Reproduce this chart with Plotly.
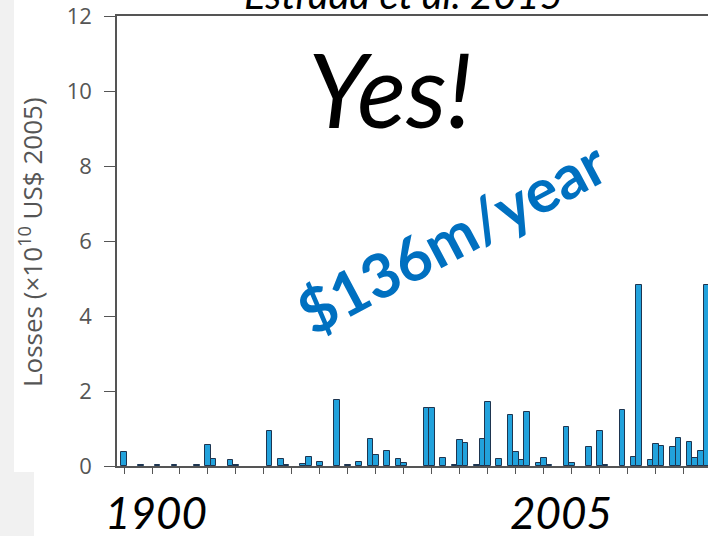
import plotly.graph_objects as go

years = [1900, 1903, 1906, 1909, 1913, 1915, 1916, 1919, 1920, 1926, 1928, 1929,
         1932, 1933, 1935, 1938, 1940, 1942, 1944, 1945, 1947, 1949, 1950, 1954,
         1955, 1957, 1959, 1960, 1961, 1963, 1964, 1965, 1967, 1969, 1970, 1971,
         1972, 1974, 1975, 1976, 1979, 1980, 1983, 1985, 1986, 1989, 1991, 1992,
         1994, 1995, 1996, 1998, 1999, 2001, 2002, 2003, 2004]
losses = [0.38, 0.02, 0.03, 0.04, 0.02, 0.56, 0.20, 0.16, 0.03, 0.93, 0.20, 0.03,
          0.05, 0.23, 0.10, 1.76, 0.03, 0.10, 0.73, 0.29, 0.41, 0.18, 0.09, 1.54,
          1.56, 0.22, 0.03, 0.70, 0.62, 0.03, 0.71, 1.71, 0.20, 1.36, 0.38, 0.16,
          1.45, 0.07, 0.22, 0.04, 1.05, 0.07, 0.52, 0.94, 0.04, 1.49, 0.25, 4.83,
          0.16, 0.60, 0.54, 0.52, 0.74, 0.64, 0.22, 0.41, 4.83]

y_ticks = [0, 2, 4, 6, 8, 10, 12]
x_ticks = list(range(1900, 2006, 5))

W, H = 708, 536
L, R, T, B = 117, 0, 16, 70
pw, ph = W - L - R, H - T - B


def px(x):
    return (x - L) / pw


def py(y):
    return (H - B - y) / ph


fig = go.Figure()
fig.add_trace(go.Bar(
    x=years, y=losses, width=1.0,
    marker=dict(color="#22a2dc", line=dict(color="#1e3550", width=1)),
    hoverinfo="x+y",
))

fig.update_layout(
    width=W, height=H,
    margin=dict(l=L, r=R, t=T, b=B),
    paper_bgcolor="white", plot_bgcolor="white",
    showlegend=False, bargap=0,
    font=dict(family="Open Sans, sans-serif"),
)
fig.update_xaxes(
    range=[1898.75, 2004.3], showgrid=False, zeroline=False,
    showline=True, linecolor="#555", linewidth=1.5, mirror=True,
    tickmode="array", tickvals=x_ticks, ticks="outside", ticklen=6,
    tickcolor="#555", showticklabels=False,
)
fig.update_yaxes(
    range=[0, 12], showgrid=False, zeroline=False,
    showline=True, linecolor="#555", linewidth=1.5,
    tickmode="array", tickvals=y_ticks, ticks="outside", ticklen=11,
    tickcolor="#555", tickfont=dict(size=22, color="#555", family="Open Sans"),
    ticklabelstandoff=8, ticklabeloverflow="allow",
)

shapes = [
    dict(type="rect", xref="paper", yref="paper", x0=px(0), x1=px(14), y0=py(H), y1=py(0),
         fillcolor="#f1f1f1", line=dict(width=0), layer="below"),
    dict(type="rect", xref="paper", yref="paper", x0=px(0), x1=px(34), y0=py(H), y1=py(472),
         fillcolor="#f1f1f1", line=dict(width=0), layer="below"),
]
fig.update_layout(shapes=shapes)

ann = [
    dict(text="Losses (×10<sup>10</sup> US$ 2005)", x=px(31), y=py(242), textangle=-90,
         font=dict(size=26, color="#555", family="Open Sans")),
    dict(text="<i>Yes!</i>", x=px(390), y=py(88),
         font=dict(size=102, color="black", family="Lato")),
    dict(text="<b>$136m/year</b>", x=px(451), y=py(236), textangle=-28,
         font=dict(size=61, color="#0070c0", family="Lato")),
    dict(text="<i>1900</i>", x=px(156), y=py(512),
         font=dict(size=44, color="black", family="Lato")),
    dict(text="<i>2005</i>", x=px(561), y=py(512),
         font=dict(size=44, color="black", family="Lato")),
    dict(text="<i>Estrada et al. 2015</i>", x=px(403), y=py(20), yanchor="bottom",
         font=dict(size=40, color="black", family="Lato")),
]
for a in ann:
    a.setdefault("xref", "paper")
    a.setdefault("yref", "paper")
    a.setdefault("showarrow", False)
    a.setdefault("xanchor", "center")
    a.setdefault("yanchor", "middle")
fig.update_layout(annotations=ann)

fig.write_html("out.html", config={"displayModeBar": False},
               post_script="document.body.style.margin='0';")
